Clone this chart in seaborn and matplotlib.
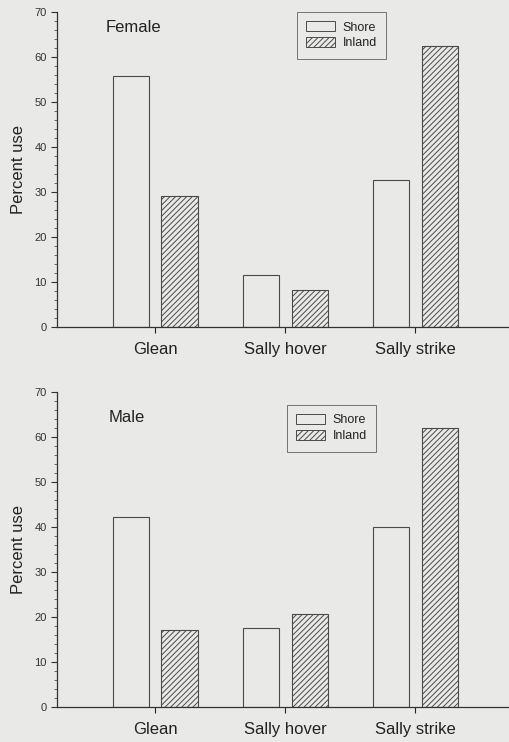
import pandas as pd
import seaborn as sns
import matplotlib.pyplot as plt
from matplotlib.patches import Patch
from matplotlib.ticker import MultipleLocator

behaviors = ["Glean", "Sally hover", "Sally strike"]
habitats = ["Shore", "Inland"]
female_shore = [55.8, 11.5, 32.6]
female_inland = [29.2, 8.2, 62.5]
male_shore = [42.3, 17.6, 40.0]
male_inland = [17.1, 20.6, 62.0]

BG = "#e9e9e7"
EDGE = "#4a4a4a"

sns.set_style("ticks")
plt.rcParams["font.family"] = ["Liberation Sans", "DejaVu Sans"]
plt.rcParams["hatch.color"] = "#555555"
plt.rcParams["hatch.linewidth"] = 0.7


def make_df(shore, inland):
    rows = []
    for b, s, i in zip(behaviors, shore, inland):
        rows.append({"behavior": b, "habitat": "Shore", "pct": s})
        rows.append({"behavior": b, "habitat": "Inland", "pct": i})
    return pd.DataFrame(rows)


def draw_panel(ax, df, sex_label, label_xy, legend_anchor):
    ax.set_facecolor(BG)
    sns.barplot(data=df, x="behavior", y="pct", hue="habitat", hue_order=habitats,
                order=behaviors, width=0.75, gap=0.26, palette=[BG, BG],
                edgecolor=EDGE, linewidth=0.8, legend=False, ax=ax)
    # hatch the inland bars
    for patch in ax.containers[1]:
        patch.set_hatch("//////")
    ax.set_xlim(-0.754, 2.72)
    ax.set_ylim(0, 70)
    ax.yaxis.set_major_locator(MultipleLocator(10))
    ax.yaxis.set_minor_locator(MultipleLocator(2))
    ax.tick_params(axis="y", which="major", length=4, width=0.8, labelsize=8, colors="#333333")
    ax.tick_params(axis="y", which="minor", length=2, width=0.6, colors="#555555")
    ax.tick_params(axis="x", length=4, width=0.8, labelsize=12, pad=7, colors="#222222")
    ax.set_xlabel("")
    ax.set_ylabel("Percent use", fontsize=12, color="#222222", labelpad=6)
    sns.despine(ax=ax)
    for side in ["left", "bottom"]:
        ax.spines[side].set_color("#333333")
        ax.spines[side].set_linewidth(0.9)
    ax.text(label_xy[0], label_xy[1], sex_label, fontsize=12, color="#222222", va="center")
    handles = [Patch(facecolor=BG, edgecolor=EDGE, linewidth=0.7, label="Shore"),
               Patch(facecolor=BG, edgecolor=EDGE, linewidth=0.7, hatch="//////", label="Inland")]
    leg = ax.legend(handles=handles, loc="upper left", bbox_to_anchor=legend_anchor,
                    fontsize=9, frameon=True, fancybox=False, handlelength=2.3,
                    handleheight=0.8, handletextpad=0.6, labelspacing=0.3,
                    borderpad=0.75, borderaxespad=0)
    leg.get_frame().set_edgecolor("#555555")
    leg.get_frame().set_facecolor(BG)
    leg.get_frame().set_linewidth(0.7)
    for t in leg.get_texts():
        t.set_color("#222222")


fig = plt.figure(figsize=(5.09, 7.42), dpi=100)
fig.patch.set_facecolor(BG)
ax1 = fig.add_axes([0.112, 0.5593, 0.888, 0.4245])
ax2 = fig.add_axes([0.112, 0.0472, 0.888, 0.4245])

draw_panel(ax1, make_df(female_shore, female_inland), "Female", (-0.38, 66.5), (0.531, 1.0))
draw_panel(ax2, make_df(male_shore, male_inland), "Male", (-0.36, 64.3), (0.509, 0.959))

fig.savefig("out.png", dpi=100, facecolor=BG)
